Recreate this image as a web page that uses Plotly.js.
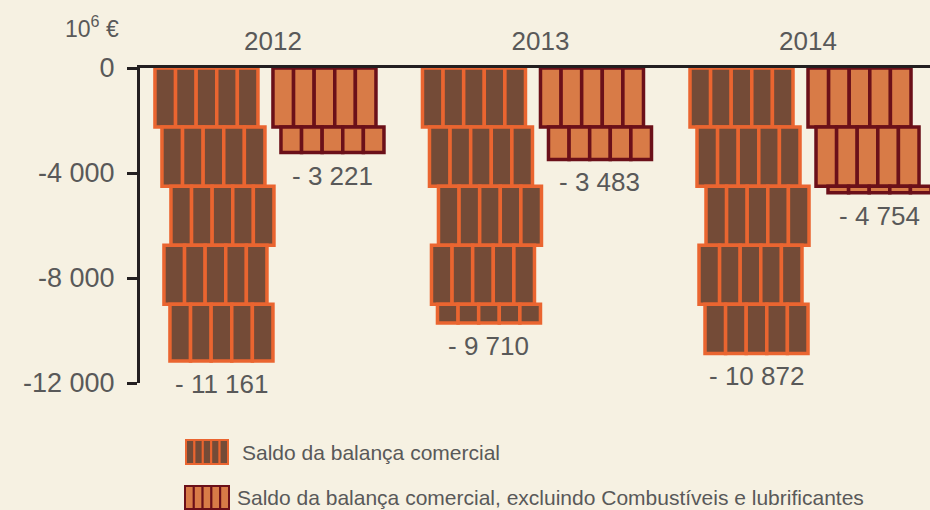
<!DOCTYPE html>
<html><head><meta charset="utf-8">
<script src="https://cdn.plot.ly/plotly-3.0.1.min.js"></script>
<style>html,body{margin:0;padding:0;background:#F6F1E2;}</style>
</head><body>
<div id="chart" style="width:930px;height:510px"></div>
<script>
// ---- data ----
const years = ['2012', '2013', '2014'];
const saldo = [-11161, -9710, -10872];
const saldoExcl = [-3221, -3483, -4754];
const seriesNames = ['Saldo da balança comercial',
  'Saldo da balança comercial, excluindo Combustíveis e lubrificantes'];
const yTickVals = [0, -4000, -8000, -12000];
const yTickText = ['0', '-4 000', '-8 000', '-12 000'];
const unitLabel = '10<sup>6</sup> €';

// ---- styling ----
const BLOCK = 2250;              // value represented by one brick row
const PX = 1 / 267.5;            // x units per pixel
const COLS = 5, BW = 103 * PX, CW = BW / COLS;
const FONT = 'Arial, "Liberation Sans", sans-serif';
const TXT = '#595959';
const styles = [
  {fill: '#744B37', line: '#EA6530', lw: 3.5, start: -118 * PX, stagger: [0, 7, 16, 9, 15].map(v => v * PX)},
  {fill: '#D87B47', line: '#6B1019', lw: 3.5, start: 0, stagger: [0, 8, 20, 12, 18].map(v => v * PX)}
];
const allSeries = [saldo, saldoExcl];

const fmt = n => '- ' + Math.abs(n).toString().replace(/\B(?=(\d{3})+(?!\d))/g, ' ');

const traces = [];
const annotations = [];
allSeries.forEach((vals, s) => {
  const st = styles[s];
  const maxBlocks = Math.max(...vals.map(v => Math.ceil(Math.abs(v) / BLOCK)));
  for (let k = 0; k < maxBlocks; k++) {
    const ys = vals.map(v => {
      const rem = Math.abs(v) - k * BLOCK;
      return rem > 0 ? -Math.min(rem, BLOCK) : null;
    });
    for (let c = 0; c < COLS; c++) {
      traces.push({
        type: 'bar', x: years.map((_, i) => i), y: ys, base: -k * BLOCK,
        offset: st.start + st.stagger[k] + c * CW, width: CW,
        marker: {color: st.fill, line: {color: st.line, width: st.lw}},
        showlegend: false, hoverinfo: 'skip'
      });
    }
  }
  vals.forEach((v, i) => {
    const last = Math.ceil(Math.abs(v) / BLOCK) - 1;
    annotations.push({
      x: i + st.start + st.stagger[last] + BW / 2, y: v, xref: 'x', yref: 'y',
      text: fmt(v), showarrow: false, yanchor: 'middle', yshift: -23,
      font: {family: FONT, size: 26, color: TXT}
    });
  });
});

// unit label
annotations.push({x: (121 - 140) / 790, y: (383 - 27) / 315, xref: 'paper', yref: 'paper', xanchor: 'right', yanchor: 'middle',
  text: unitLabel, showarrow: false, font: {family: FONT, size: 23, color: TXT}});

// legend (drawn manually)
const shapes = [];
const px2x = p => (p - 140) / 790;
const px2y = p => (383 - p) / 315;
const legRows = [{x0: 186, x1: 228, y0: 440, y1: 464, tx: 240, ty: 452},
                 {x0: 185, x1: 229, y0: 486, y1: 509, tx: 235, ty: 497}];
legRows.forEach((r, s) => {
  const st = styles[s];
  const w = (r.x1 - r.x0) / COLS;
  for (let c = 0; c < COLS; c++) {
    shapes.push({type: 'rect', xref: 'paper', yref: 'paper',
      x0: px2x(r.x0 + c * w), x1: px2x(r.x0 + (c + 1) * w), y0: px2y(r.y1), y1: px2y(r.y0),
      fillcolor: st.fill, line: {color: st.line, width: 2}});
  }
  annotations.push({x: px2x(r.tx), y: px2y(r.ty), xref: 'paper', yref: 'paper', xanchor: 'left', yanchor: 'middle',
    text: seriesNames[s], showarrow: false, font: {family: FONT, size: 21, color: TXT}});
});

const layout = {
  width: 930, height: 510,
  margin: {l: 140, r: 0, t: 68, b: 127},
  paper_bgcolor: '#F6F1E2', plot_bgcolor: '#F6F1E2',
  barmode: 'overlay', bargap: 0,
  font: {family: FONT, color: TXT},
  xaxis: {range: [-0.497, 2.456], side: 'top', tickvals: years.map((_, i) => i), ticktext: years,
    showline: true, linecolor: '#231F20', linewidth: 3, ticks: '', showgrid: false, zeroline: false,
    tickfont: {family: FONT, size: 26, color: TXT}, ticklabelstandoff: 5, fixedrange: true},
  yaxis: {range: [-12000, 0], tickvals: yTickVals, ticktext: yTickText,
    ticks: 'outside', ticklen: 10, tickwidth: 3, tickcolor: '#231F20',
    showline: true, linecolor: '#231F20', linewidth: 3, showgrid: false, zeroline: false,
    tickfont: {family: FONT, size: 27, color: TXT}, ticklabelstandoff: 7, fixedrange: true},
  annotations: annotations, shapes: shapes, showlegend: false
};

Plotly.newPlot('chart', traces, layout, {displayModeBar: false, staticPlot: true});
</script>
</body></html>
